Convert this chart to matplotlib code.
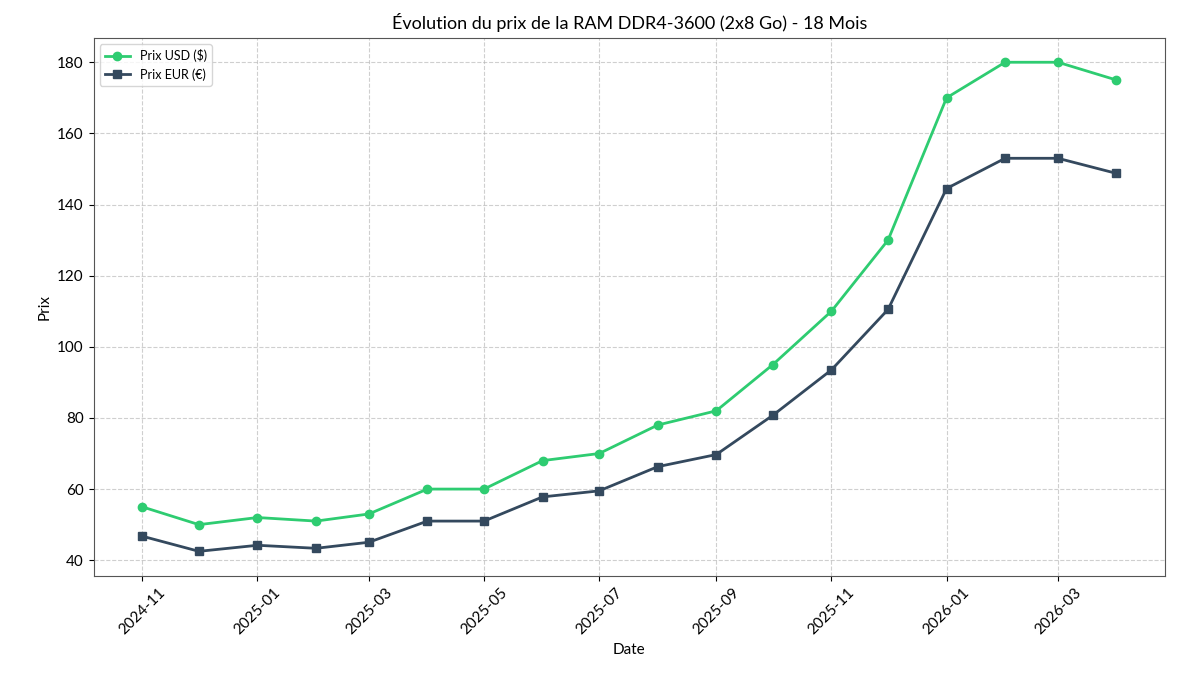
import matplotlib.pyplot as plt
import matplotlib.dates as mdates
import pandas as pd
import numpy as np

plt.rcParams['font.family'] = ['Lato', 'DejaVu Sans']

dates = pd.date_range('2024-11-01', periods=18, freq='MS')
prix_usd = [55, 50, 52, 51, 53, 60, 60, 68, 70, 78, 82, 95, 110, 130, 170, 180, 180, 175]
prix_eur = [46.75, 42.5, 44.2, 43.35, 45.05, 51, 51, 57.8, 59.5, 66.3, 69.7, 80.75,
            93.5, 110.5, 144.5, 153, 153, 148.75]

fig, ax = plt.subplots(figsize=(12, 6.75), dpi=100)
ax.plot(dates, prix_usd, marker='o', color='#2ecc71', lw=2, ms=6, label='Prix USD ($)')
ax.plot(dates, prix_eur, marker='s', color='#34495e', lw=2, ms=6, label='Prix EUR (€)')

ax.set_title('Évolution du prix de la RAM DDR4-3600 (2x8 Go) - 18 Mois', fontsize=13)
ax.set_xlabel('Date', fontsize=11)
ax.set_ylabel('Prix', fontsize=11)
ax.grid(True, linestyle='--', alpha=0.6)
ax.xaxis.set_major_locator(mdates.MonthLocator(bymonth=[1, 3, 5, 7, 9, 11]))
ax.xaxis.set_major_formatter(mdates.DateFormatter('%Y-%m'))
plt.setp(ax.get_xticklabels(), rotation=45, fontsize=11)
plt.setp(ax.get_yticklabels(), fontsize=11)
ax.legend(loc='upper left', fontsize=9)
for s in ax.spines.values():
    s.set_color('#555555')

fig.subplots_adjust(left=0.078, right=0.971, top=0.944, bottom=0.147)
fig.savefig('out.png')
